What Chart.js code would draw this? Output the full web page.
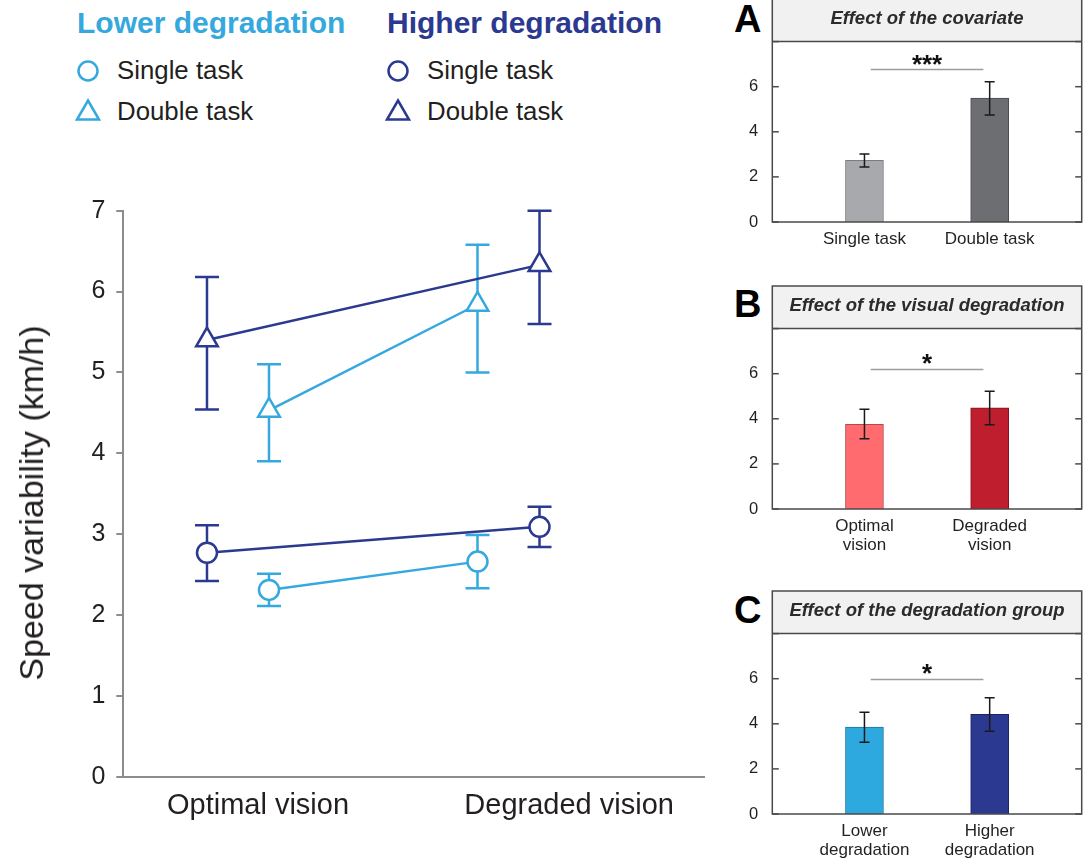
<!DOCTYPE html>
<html>
<head>
<meta charset="utf-8">
<script src="https://cdn.jsdelivr.net/npm/chart.js@4.4.1/dist/chart.umd.min.js"></script>
<style>
  html, body { margin: 0; padding: 0; background: #fff; }
  body { width: 1089px; height: 858px; position: relative; overflow: hidden;
         font-family: 'Liberation Sans', Arial, Helvetica, sans-serif; color: #231f20; }
  .abs { position: absolute; }
  .legend-head { font-weight: bold; font-size: 30px; line-height: 30px; white-space: nowrap; }
  .legend-item { font-size: 25.8px; line-height: 26px; white-space: nowrap; color: #231f20; }
  .panel-letter { font-weight: bold; font-size: 38px; line-height: 36px; color: #000; }
  .y-title { font-size: 34px; line-height: 34px; white-space: nowrap; color: #231f20;
             transform: translate(-50%, -50%) rotate(-90deg); }
  canvas { position: absolute; display: block; }
</style>
</head>
<body>
<div id="legend"></div>
<canvas id="main" width="720" height="688" style="left:0;top:170px;"></canvas>
<div id="yTitle" class="abs y-title" style="left:31px;top:503px;"></div>
<div class="abs panel-letter" style="left:734px;top:1px;">A</div>
<canvas id="panelA" width="369" height="284" style="left:720px;top:-2px;"></canvas>
<div class="abs panel-letter" style="left:734px;top:286px;">B</div>
<canvas id="panelB" width="369" height="284" style="left:720px;top:285px;"></canvas>
<div class="abs panel-letter" style="left:734px;top:592px;">C</div>
<canvas id="panelC" width="369" height="284" style="left:720px;top:590px;"></canvas>

<script>
// ---- Main figure: speed variability by vision condition ----
const CONDITIONS = ['Optimal vision', 'Degraded vision'];
const GROUPS = ['Lower degradation', 'Higher degradation'];
const TASKS = ['Single task', 'Double task'];
const Y_TITLE = 'Speed variability (km/h)';

// means and error-bar limits (km/h), one value per vision condition
const LOWER_SINGLE    = [2.31, 2.66];
const LOWER_SINGLE_LO = [2.11, 2.33];
const LOWER_SINGLE_HI = [2.51, 2.99];

const HIGHER_SINGLE    = [2.77, 3.09];
const HIGHER_SINGLE_LO = [2.42, 2.84];
const HIGHER_SINGLE_HI = [3.11, 3.34];

const LOWER_DOUBLE    = [4.53, 5.84];
const LOWER_DOUBLE_LO = [3.90, 5.00];
const LOWER_DOUBLE_HI = [5.10, 6.58];

const HIGHER_DOUBLE    = [5.40, 6.33];
const HIGHER_DOUBLE_LO = [4.54, 5.60];
const HIGHER_DOUBLE_HI = [6.18, 7.00];

const Y_TICKS_MAIN = [0, 1, 2, 3, 4, 5, 6, 7];

// ---- Panel A: effect of the covariate ----
const A_LABELS = ['Single task', 'Double task'];
const A_MEAN = [2.74, 5.49];
const A_LO   = [2.44, 4.75];
const A_HI   = [3.02, 6.22];
const A_SIG_Y = 6.76;
const A_SIG = '***';

// ---- Panel B: effect of the visual degradation ----
const B_LABELS = [['Optimal', 'vision'], ['Degraded', 'vision']];
const B_MEAN = [3.76, 4.49];
const B_LO   = [3.11, 3.74];
const B_HI   = [4.42, 5.22];
const B_SIG_Y = 6.19;
const B_SIG = '*';

// ---- Panel C: effect of the degradation group ----
const C_LABELS = [['Lower', 'degradation'], ['Higher', 'degradation']];
const C_MEAN = [3.86, 4.42];
const C_LO   = [3.18, 3.67];
const C_HI   = [4.51, 5.15];
const C_SIG_Y = 5.97;
const C_SIG = '*';

const PANEL_Y_TICKS = [0, 1, 2, 3, 4, 5, 6, 7, 8];

// ---- styling ----
const FONT = "'Liberation Sans', Arial, Helvetica, sans-serif";
const LIGHT = '#35a8de';
const DARK = '#2b3990';
const AXIS_GREY = '#8c8c8c';
const TEXT = '#231f20';
const DODGE = 0.1146;                 // horizontal offset of the two groups
const SIDE_LOWER = [1, -1];           // lower group: right of centre, then left
const SIDE_HIGHER = [-1, 1];          // higher group: left of centre, then right
const LABEL_SHIFT = [0.074, 0.224];   // placement of the condition labels
Chart.defaults.font.family = FONT;
Chart.defaults.color = TEXT;

document.getElementById('yTitle').textContent = Y_TITLE;

// legend (HTML)
(function buildLegend() {
  const host = document.getElementById('legend');
  const cols = [
    { name: GROUPS[0], color: LIGHT, x: 77 },
    { name: GROUPS[1], color: DARK, x: 387 }
  ];
  cols.forEach(c => {
    const h = document.createElement('div');
    h.className = 'abs legend-head';
    h.style.left = c.x + 'px';
    h.style.top = '8px';
    h.style.color = c.color;
    h.textContent = c.name;
    host.appendChild(h);
    TASKS.forEach((t, k) => {
      const cy = k === 0 ? 71 : 112;
      const svg = document.createElementNS('http://www.w3.org/2000/svg', 'svg');
      svg.setAttribute('width', '30'); svg.setAttribute('height', '30');
      svg.style.position = 'absolute';
      svg.style.left = (c.x - 4) + 'px';
      svg.style.top = (cy - 15) + 'px';
      const shape = k === 0
        ? '<circle cx="15" cy="15" r="9.5" fill="#fff" stroke="' + c.color + '" stroke-width="2.5"/>'
        : '<polygon points="15,3.5 26,22.5 4,22.5" fill="#fff" stroke="' + c.color + '" stroke-width="2.5" stroke-linejoin="miter"/>';
      svg.innerHTML = shape;
      host.appendChild(svg);
      const lab = document.createElement('div');
      lab.className = 'abs legend-item';
      lab.style.left = (c.x + 40) + 'px';
      lab.style.top = (cy - 14) + 'px';
      lab.textContent = t;
      host.appendChild(lab);
    });
  });
})();

// error bars for the line figure
const errorBarsMain = {
  id: 'errorBarsMain',
  beforeDatasetsDraw(chart) {
    const ctx = chart.ctx;
    const yScale = chart.scales.y;
    chart.data.datasets.forEach((ds, di) => {
      const meta = chart.getDatasetMeta(di);
      ctx.save();
      ctx.strokeStyle = ds.borderColor;
      ctx.lineWidth = 2.5;
      meta.data.forEach((pt, i) => {
        const x = pt.x;
        const yl = yScale.getPixelForValue(ds.errLo[i]);
        const yh = yScale.getPixelForValue(ds.errHi[i]);
        const cap = 12;
        ctx.beginPath();
        ctx.moveTo(x, yl); ctx.lineTo(x, yh);
        ctx.moveTo(x - cap, yl); ctx.lineTo(x + cap, yl);
        ctx.moveTo(x - cap, yh); ctx.lineTo(x + cap, yh);
        ctx.stroke();
      });
      ctx.restore();
    });
  }
};

function series(label, mean, lo, hi, color, style, sides) {
  return {
    label,
    data: CONDITIONS.map((c, i) => ({ x: i + sides[i] * DODGE, y: mean[i] })),
    errLo: lo,
    errHi: hi,
    borderColor: color,
    backgroundColor: '#fff',
    borderWidth: 2.5,
    pointStyle: style,
    pointRadius: style === 'triangle' ? 12.5 : 10,
    pointBorderWidth: 2.5,
    pointBackgroundColor: '#fff',
    pointBorderColor: color,
    tension: 0,
    fill: false
  };
}

new Chart(document.getElementById('main'), {
  type: 'line',
  data: {
    datasets: [
      series(GROUPS[0] + ' – ' + TASKS[0], LOWER_SINGLE, LOWER_SINGLE_LO, LOWER_SINGLE_HI, LIGHT, 'circle', SIDE_LOWER),
      series(GROUPS[1] + ' – ' + TASKS[0], HIGHER_SINGLE, HIGHER_SINGLE_LO, HIGHER_SINGLE_HI, DARK, 'circle', SIDE_HIGHER),
      series(GROUPS[0] + ' – ' + TASKS[1], LOWER_DOUBLE, LOWER_DOUBLE_LO, LOWER_DOUBLE_HI, LIGHT, 'triangle', SIDE_LOWER),
      series(GROUPS[1] + ' – ' + TASKS[1], HIGHER_DOUBLE, HIGHER_DOUBLE_LO, HIGHER_DOUBLE_HI, DARK, 'triangle', SIDE_HIGHER)
    ]
  },
  options: {
    responsive: false,
    animation: false,
    events: [],
    layout: { padding: { left: 0, right: 16, top: 40.7, bottom: 0 } },
    plugins: { legend: { display: false }, tooltip: { enabled: false } },
    scales: {
      x: {
        type: 'linear',
        min: -0.424,
        max: 1.7227,
        offset: false,
        afterBuildTicks(s) { s.ticks = CONDITIONS.map((c, i) => ({ value: i + LABEL_SHIFT[i] })); },
        afterFit(s) { s.height = 81.3; },
        ticks: {
          callback: (v, i) => CONDITIONS[i],
          font: { size: 29 },
          color: TEXT,
          padding: 4,
          maxRotation: 0,
          autoSkip: false
        },
        grid: { display: false },
        border: { display: true, color: AXIS_GREY, width: 2 }
      },
      y: {
        min: 0,
        max: 7,
        afterBuildTicks(s) { s.ticks = Y_TICKS_MAIN.map(v => ({ value: v })); },
        afterFit(s) { s.width = 123.3; },
        ticks: { font: { size: 25 }, color: TEXT, padding: 11 },
        grid: { display: true, drawOnChartArea: false, drawTicks: true, tickLength: 7, color: AXIS_GREY, lineWidth: 2 },
        border: { display: true, color: AXIS_GREY, width: 2 }
      }
    }
  },
  plugins: [errorBarsMain]
});

// ---- small bar panels ----
function makePanel(id, title, labels, mean, lo, hi, fills, edges, sigY, sigText) {
  const panelDecor = {
    id: 'panelDecor',
    beforeDraw(chart) {
      const { ctx, chartArea } = chart;
      ctx.save();
      ctx.fillStyle = '#f1f1f2';
      ctx.fillRect(chartArea.left, 1, chartArea.right - chartArea.left, chartArea.top - 1);
      ctx.restore();
    },
    afterDatasetsDraw(chart) {
      const { ctx, scales } = chart;
      const meta = chart.getDatasetMeta(0);
      // error bars
      ctx.save();
      ctx.strokeStyle = '#1a1a1a';
      ctx.lineWidth = 1.5;
      meta.data.forEach((bar, i) => {
        const x = bar.x;
        const yl = scales.y.getPixelForValue(lo[i]);
        const yh = scales.y.getPixelForValue(hi[i]);
        const cap = 5;
        ctx.beginPath();
        ctx.moveTo(x, yl); ctx.lineTo(x, yh);
        ctx.moveTo(x - cap, yl); ctx.lineTo(x + cap, yl);
        ctx.moveTo(x - cap, yh); ctx.lineTo(x + cap, yh);
        ctx.stroke();
      });
      // significance bracket
      const ys = scales.y.getPixelForValue(sigY);
      ctx.strokeStyle = '#9d9d9d';
      ctx.lineWidth = 1.5;
      ctx.beginPath();
      ctx.moveTo(scales.x.getPixelForValue(0.05), ys);
      ctx.lineTo(scales.x.getPixelForValue(0.95), ys);
      ctx.stroke();
      ctx.fillStyle = '#111';
      ctx.font = 'bold 26px ' + FONT;
      ctx.textAlign = 'center';
      ctx.textBaseline = 'alphabetic';
      ctx.fillText(sigText, scales.x.getPixelForValue(0.5), ys + 3);
      ctx.restore();
    },
    afterDraw(chart) {
      const { ctx, chartArea, scales } = chart;
      // frame, header outline and inward ticks on both sides
      ctx.save();
      ctx.strokeStyle = '#4a4a4a';
      ctx.lineWidth = 1.5;
      ctx.strokeRect(chartArea.left, 1, chartArea.right - chartArea.left, chartArea.bottom - 1);
      ctx.beginPath();
      ctx.moveTo(chartArea.left, chartArea.top);
      ctx.lineTo(chartArea.right, chartArea.top);
      ctx.stroke();
      ctx.fillStyle = '#4a4a4a';
      scales.y.ticks.forEach(t => {
        const y = scales.y.getPixelForValue(t.value);
        ctx.fillRect(chartArea.left, y - 0.75, 6.5, 1.5);
        ctx.fillRect(chartArea.right - 6.5, y - 0.75, 6.5, 1.5);
      });
      ctx.restore();
    }
  };

  return new Chart(document.getElementById(id), {
    type: 'bar',
    data: {
      datasets: [{
        data: labels.map((l, i) => ({ x: i, y: mean[i] })),
        backgroundColor: fills,
        borderColor: edges,
        borderWidth: 1,
        barThickness: 38
      }]
    },
    options: {
      responsive: false,
      animation: false,
      events: [],
      layout: { padding: { left: 0, right: 7.3, top: 0, bottom: 0 } },
      plugins: {
        legend: { display: false },
        tooltip: { enabled: false },
        title: {
          display: true,
          text: title,
          fullSize: false,
          color: '#2b2b2b',
          font: { size: 18.5, weight: 'bold', style: 'italic' },
          padding: { top: 10, bottom: 11.4 }
        }
      },
      scales: {
        x: {
          type: 'linear',
          min: -0.736,
          max: 1.735,
          offset: false,
          bounds: 'data',
          afterBuildTicks(s) { s.ticks = labels.map((l, i) => ({ value: i })); },
          afterFit(s) { s.height = 60; },
          ticks: {
            callback: (v, i) => labels[i],
            font: { size: 17, lineHeight: 1.1 },
            color: TEXT,
            padding: 0,
            maxRotation: 0,
            autoSkip: false
          },
          grid: { display: false, offset: false },
          border: { display: false }
        },
        y: {
          min: 0,
          max: 8,
          afterBuildTicks(s) { s.ticks = PANEL_Y_TICKS.map(v => ({ value: v })); },
          afterFit(s) { s.width = 52.3; },
          ticks: {
            callback: v => (v % 2 === 0 && v < 8) ? String(v) : '',
            font: { size: 16.5 },
            color: TEXT,
            padding: 6
          },
          grid: { display: false },
          border: { display: false }
        }
      }
    },
    plugins: [panelDecor]
  });
}

makePanel('panelA', 'Effect of the covariate', A_LABELS, A_MEAN, A_LO, A_HI,
  ['#a7a9ac', '#6d6e71'], ['#7b7c7f', '#4b4c4e'], A_SIG_Y, A_SIG);
makePanel('panelB', 'Effect of the visual degradation', B_LABELS, B_MEAN, B_LO, B_HI,
  ['#ff6b6e', '#be1e2d'], ['#b24a4c', '#861420'], B_SIG_Y, B_SIG);
makePanel('panelC', 'Effect of the degradation group', C_LABELS, C_MEAN, C_LO, C_HI,
  ['#2ea9df', '#2b3990'], ['#1f769b', '#1b2563'], C_SIG_Y, C_SIG);
</script>
</body>
</html>
